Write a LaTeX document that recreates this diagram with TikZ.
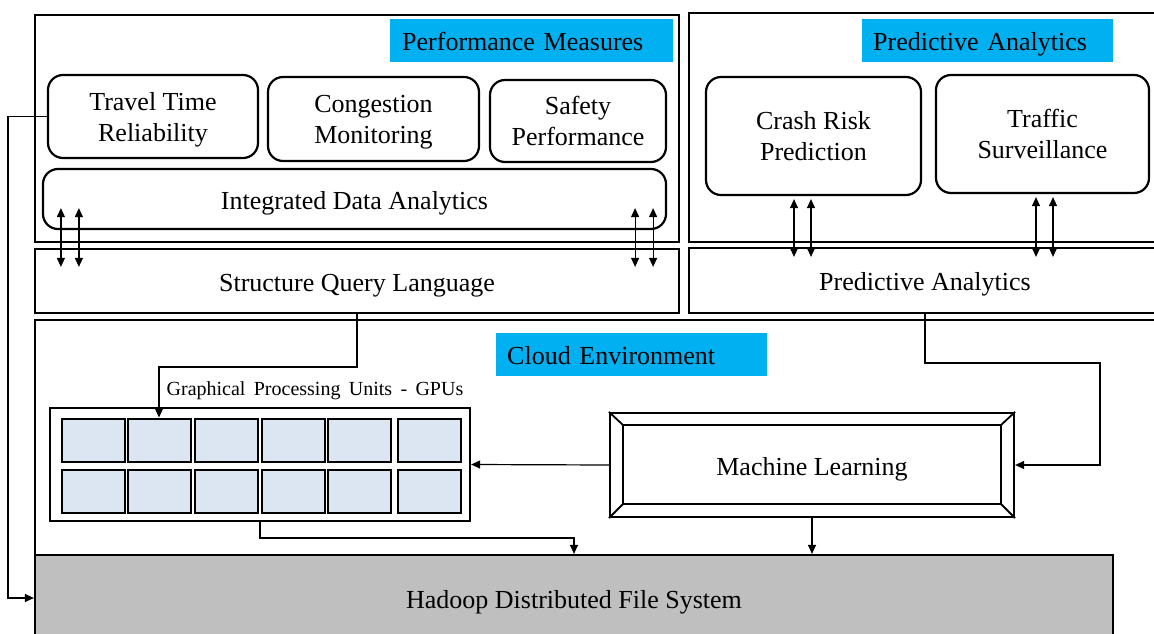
\documentclass[tikz,border=0pt]{standalone}
\usepackage{fontspec}
\setmainfont{Liberation Serif}
\usetikzlibrary{arrows.meta}
\definecolor{labblue}{HTML}{00B0F0}
\definecolor{cellblue}{HTML}{DCE6F2}
\definecolor{hdfsgray}{HTML}{BFBFBF}
\tikzset{
  tip/.tip={Triangle[length=9pt,width=8pt]},
  frame/.style={draw, line width=2.2pt, inner sep=0pt},
  rbox/.style={draw, line width=2.2pt, rounded corners=15pt, align=center, inner sep=0pt, text height=49pt, text depth=0pt, font=\fontsize{26}{31}\selectfont},
  lab/.style={fill=labblue, inner sep=0pt, inner xsep=11pt, align=left, minimum height=43pt, anchor=north west, text height=19pt, text depth=0pt, font=\fontsize{26}{31}\selectfont},
  txt/.style={font=\fontsize{26}{31}\selectfont, align=center, text height=20pt, text depth=0pt},
  cell/.style={draw, line width=2pt, fill=cellblue, minimum width=63pt, minimum height=43pt, inner sep=0pt},
  conn/.style={line width=1.2pt, -tip},
  dbl/.style={line width=1.2pt, tip-tip},
}
\begin{document}
\begin{tikzpicture}[x=1pt,y=-1pt]
\useasboundingbox (0,0) rectangle (1154,634);
\clip (0,0) rectangle (1154,634);
% performance measures
\node[frame, minimum width=644pt, minimum height=227pt] (perf) at (357,128.5) {};
\node[lab, text width=259pt, inner xsep=12pt] (perflab) at (390,19) {Performance Measures};
\node[rbox, minimum width=210pt, minimum height=83pt] (travel) at (153,116.5) {Travel Time\\Reliability};
\node[rbox, minimum width=211pt, minimum height=84pt] (cong) at (373.5,119) {Congestion\\Monitoring};
\node[rbox, minimum width=176pt, minimum height=82pt] (safety) at (578,121) {Safety\\Performance};
\node[rbox, text height=20pt, minimum width=623pt, minimum height=60pt] (ida) at (354.5,199) {Integrated Data Analytics};
\node[frame, txt, minimum width=644pt, minimum height=64pt] (sql) at (357,281) {Structure Query Language};
% predictive analytics
\node[frame, minimum width=476pt, minimum height=229pt] (pred) at (927,127.5) {};
\node[lab, text width=229pt] (predlab) at (862,19) {Predictive Analytics};
\node[rbox, minimum width=215pt, minimum height=118pt] (crash) at (813.5,136) {Crash Risk\\Prediction};
\node[rbox, minimum width=213pt, minimum height=118pt] (traffic) at (1042.5,134) {Traffic\\Surveillance};
\node[frame, minimum width=476pt, minimum height=65pt] (predlow) at (927,280.5) {};
\node[txt] (predlowt) at (925,280.5) {Predictive Analytics};
% cloud
\node[frame, minimum width=1130pt, minimum height=320pt] (cloud) at (600,480) {};
\node[lab, text width=249pt] (cloudlab) at (496,333) {Cloud Environment};
\node[font=\fontsize{20}{24}\selectfont] (gpulab) at (315,391) {Graphical \,Processing \,Units \,- \,GPUs};
\node[frame, minimum width=420pt, minimum height=113pt] (gpu) at (260,464.5) {};
\foreach \i/\x in {1/93.5,2/159,3/226,4/293,5/359,6/429.5}{
  \node[cell] (a\i) at (\x,440) {};
  \node[cell] (b\i) at (\x,491) {};
}
\node[frame, txt, minimum width=404pt, minimum height=104pt] (ml) at (812,465) {Machine Learning};
\draw[line width=1.8pt] ([shift={(14pt,-13pt)}]ml.north west) rectangle ([shift={(-14pt,14pt)}]ml.south east);
\draw[line width=1.8pt] (ml.north west) -- ++(14,13);
\draw[line width=1.8pt] (ml.north east) -- ++(-14,13);
\draw[line width=1.8pt] (ml.south west) -- ++(14,-14);
\draw[line width=1.8pt] (ml.south east) -- ++(-14,-14);
\node[frame, fill=hdfsgray, txt, minimum width=1078pt, minimum height=86pt] (hdfs) at (574,598) {Hadoop Distributed File System};
% connectors
\coordinate (lc) at (8,116.5);
\draw[conn] (travel.west) -- (lc) |- (hdfs.west);
\coordinate (sqlbend) at (357,367);
\draw[conn] (sql.south) -- (sqlbend) -| (a2.north);
\coordinate (gpubend) at (260,538);
\draw[conn] (gpu.south) -- (gpubend) -| (hdfs.north);
\draw[conn] (ml.west) -- (gpu.east);
\draw[conn] (ml.south) -- (ml.south |- hdfs.north);
\coordinate (pb1) at (925,363);
\coordinate (pb2) at (1100,363);
\draw[conn] (pb1 |- predlow.south) -- (pb1) -- (pb2) |- (ml.east);
% double arrows
\foreach \dx in {19,37}{
  \draw[dbl] ([xshift=\dx pt,yshift=22pt]ida.south west) -- ([xshift=\dx pt+8pt,yshift=-19pt]sql.north west);
}
\foreach \dx in {-32,-14}{
  \draw[dbl] ([xshift=\dx pt,yshift=22pt]ida.south east) -- ([xshift=\dx pt-13pt,yshift=-19pt]sql.north east);
}
\foreach \n/\dx in {crash/-19.5, crash/-2.5, traffic/-6.5, traffic/10.5}{
  \draw[dbl] ([xshift=\dx pt,yshift=-3pt]\n.south) -- ([xshift=\dx pt,yshift=-10pt]\n.south |- predlow.north);
}
\end{tikzpicture}
\end{document}
